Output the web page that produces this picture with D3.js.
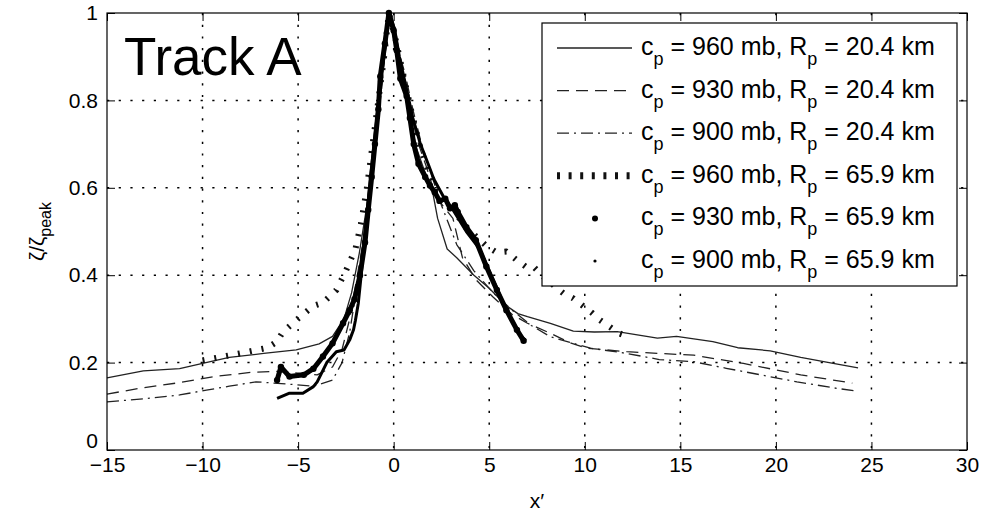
<!DOCTYPE html>
<html>
<head>
<meta charset="utf-8">
<script src="https://cdn.jsdelivr.net/npm/d3@7"></script>
<style>
  body { margin: 0; background: #fff; }
  svg { display: block; font-family: "Liberation Sans", Arial, sans-serif; }
</style>
</head>
<body>
<svg id="chart" width="990" height="514"></svg>
<script>
// Track A: normalised vorticity vs x' for six storm configurations.
// Values.

const xTicks = [-15, -10, -5, 0, 5, 10, 15, 20, 25, 30];
const yTicks = [0, 0.2, 0.4, 0.6, 0.8, 1];

// [x', ζ/ζpeak]
const c960R204 = [
  [-15, 0.165], [-13.1, 0.181], [-11.2, 0.186], [-10, 0.198], [-8.6, 0.212], [-6.8, 0.221],
  [-5.1, 0.229], [-3.9, 0.243], [-3.2, 0.26], [-2.6, 0.3], [-2.2, 0.36], [-1.8, 0.45],
  [-1.4, 0.56], [-1.1, 0.66], [-0.8, 0.78], [-0.5, 0.9], [-0.25, 1.0], [0.1, 0.92],
  [0.4, 0.85], [0.8, 0.77], [1.2, 0.69], [1.6, 0.64], [2.0, 0.6], [2.3, 0.53], [2.8, 0.46],
  [3.3, 0.44], [4.2, 0.4], [5.0, 0.37], [5.9, 0.33], [6.5, 0.312], [7.0, 0.305], [7.8, 0.295],
  [8.2, 0.29], [9.4, 0.272], [10.5, 0.27], [11.7, 0.271], [13.8, 0.256], [14.8, 0.26],
  [16.7, 0.248], [18, 0.234], [19.7, 0.227], [21.3, 0.212], [23, 0.198], [24.3, 0.188]
];
const c930R204 = [
  [-15, 0.128], [-13.3, 0.141], [-11.4, 0.153], [-9.4, 0.168], [-7.4, 0.178], [-6.1, 0.18],
  [-5, 0.176], [-4, 0.172], [-3.2, 0.19], [-2.7, 0.23], [-2.3, 0.3], [-1.9, 0.4], [-1.5, 0.5],
  [-1.2, 0.6], [-0.9, 0.72], [-0.6, 0.84], [-0.25, 1.0], [0.1, 0.93], [0.5, 0.85], [0.9, 0.77],
  [1.3, 0.7], [1.7, 0.65], [2.2, 0.58], [3.1, 0.53], [3.6, 0.44], [4.3, 0.39], [5.2, 0.35],
  [6.2, 0.31], [7.0, 0.29], [8.2, 0.267], [9.2, 0.246], [10.1, 0.233], [12.2, 0.225],
  [13.9, 0.221], [15.7, 0.217], [18.3, 0.198], [21.3, 0.172], [23, 0.16], [24, 0.153]
];
const c900R204 = [
  [-15, 0.11], [-12.9, 0.118], [-11.2, 0.126], [-9.8, 0.137], [-8.6, 0.146], [-7.2, 0.156],
  [-5.3, 0.15], [-4.2, 0.146], [-3.2, 0.16], [-2.7, 0.2], [-2.3, 0.27], [-1.9, 0.38],
  [-1.5, 0.5], [-1.2, 0.6], [-0.9, 0.72], [-0.6, 0.85], [-0.25, 1.0], [0.15, 0.93], [0.6, 0.86],
  [1.0, 0.78], [1.4, 0.71], [1.9, 0.64], [2.5, 0.56], [3.3, 0.47], [4.2, 0.41], [5.2, 0.36],
  [6.2, 0.32], [7.2, 0.285], [8.2, 0.259], [10.3, 0.233], [12.2, 0.221], [13.9, 0.207],
  [15.7, 0.202], [17.4, 0.187], [19.2, 0.172], [21.1, 0.156], [23.2, 0.141], [24.2, 0.135]
];
const c960R659 = [
  [-10, 0.205], [-8.9, 0.214], [-7.6, 0.225], [-6.6, 0.234], [-6.1, 0.248], [-5.8, 0.27],
  [-5.1, 0.297], [-4.2, 0.33], [-3.7, 0.337], [-3, 0.366], [-2.5, 0.41], [-2, 0.46],
  [-1.7, 0.52], [-1.4, 0.6], [-1.1, 0.7], [-0.8, 0.8], [-0.5, 0.9], [-0.25, 1.0], [0.1, 0.94],
  [0.4, 0.88], [0.9, 0.78], [1.4, 0.69], [1.8, 0.64], [2.4, 0.585], [3.0, 0.555], [3.8, 0.51],
  [4.4, 0.485], [4.9, 0.465], [5.4, 0.452], [5.9, 0.454], [6.4, 0.436], [6.9, 0.42], [7.3, 0.42],
  [8.0, 0.39], [8.9, 0.358], [9.4, 0.347], [9.9, 0.33], [10.4, 0.313], [10.8, 0.297],
  [11.3, 0.282], [11.8, 0.267], [12.1, 0.262]
];
const c930R659 = [
  [-6.1, 0.16], [-5.9, 0.19], [-5.45, 0.168], [-4.7, 0.172], [-4.2, 0.186], [-3.7, 0.214],
  [-3.2, 0.244], [-2.65, 0.29], [-2.3, 0.32], [-2.05, 0.345], [-1.76, 0.4], [-1.5, 0.475],
  [-1.33, 0.55], [-1.15, 0.625], [-0.98, 0.7], [-0.8, 0.78], [-0.7, 0.855], [-0.46, 0.93],
  [-0.25, 1.0], [0.0, 0.96], [0.16, 0.915], [0.35, 0.85], [0.68, 0.81], [0.85, 0.76],
  [1.05, 0.7], [1.3, 0.655], [1.65, 0.625], [1.9, 0.605], [2.15, 0.59], [2.4, 0.57],
  [2.7, 0.575], [2.95, 0.553], [3.2, 0.56], [3.35, 0.545], [3.8, 0.51], [4.3, 0.48],
  [4.85, 0.42], [5.4, 0.366], [5.9, 0.32], [6.45, 0.275], [6.8, 0.25]
];
const c900R659 = [
  [-6.1, 0.118], [-5.45, 0.13], [-4.75, 0.13], [-4.2, 0.145], [-4.0, 0.156], [-3.5, 0.2],
  [-3.0, 0.225], [-2.6, 0.229], [-2.3, 0.252], [-2.1, 0.275], [-2.0, 0.297], [-1.85, 0.336],
  [-1.7, 0.4], [-1.55, 0.48], [-1.35, 0.56], [-1.2, 0.63], [-1.0, 0.71], [-0.8, 0.79],
  [-0.6, 0.87], [-0.4, 0.94], [-0.2, 1.0], [0.1, 0.95], [0.3, 0.9], [0.6, 0.84], [1.0, 0.76],
  [1.4, 0.7], [1.8, 0.655], [2.1, 0.62], [2.6, 0.58], [3.1, 0.55], [3.8, 0.5], [4.5, 0.46],
  [5.2, 0.39], [5.9, 0.32], [6.5, 0.27], [6.9, 0.25]
];

const legendLabels = [
  ['960', '20.4'], ['930', '20.4'], ['900', '20.4'],
  ['960', '65.9'], ['930', '65.9'], ['900', '65.9']
];

const svg = d3.select('#chart');
const plot = { left: 107, right: 967, top: 13, bottom: 450 };

const x = d3.scaleLinear().domain([-15, 30]).range([plot.left, plot.right]);
const y = d3.scaleLinear().domain([0, 1]).range([plot.bottom, plot.top]);

svg.append('rect').attr('width', 990).attr('height', 514).attr('fill', '#fff');

// dotted grid
const grid = svg.append('g')
  .attr('stroke', '#000').attr('stroke-width', 1.5).attr('stroke-dasharray', '2.2,9.5');
xTicks.slice(1, -1).forEach((t) => {
  grid.append('line').attr('x1', x(t)).attr('x2', x(t)).attr('y1', plot.top).attr('y2', plot.bottom);
});
yTicks.slice(1, -1).forEach((t) => {
  grid.append('line').attr('y1', y(t)).attr('y2', y(t)).attr('x1', plot.left).attr('x2', plot.right);
});

// series
const line = d3.line().x((d) => x(d[0])).y((d) => y(d[1]));
const thin = { stroke: '#222', width: 1.3 };

const series = [
  { data: c960R204, stroke: thin.stroke, width: thin.width, dash: null },
  { data: c930R204, stroke: thin.stroke, width: thin.width, dash: '12,7' },
  { data: c900R204, stroke: thin.stroke, width: thin.width, dash: '12,5,2,5' },
  { data: c960R659, stroke: '#111', width: 6, dash: '2,10' },
  { data: c900R659, stroke: '#000', width: 3, dash: null },
  { data: c930R659, stroke: '#000', width: 5, dash: null }
];

series.forEach((s) => {
  svg.append('path')
    .attr('d', line(s.data))
    .attr('fill', 'none')
    .attr('stroke', s.stroke)
    .attr('stroke-width', s.width)
    .attr('stroke-linejoin', 'round')
    .attr('stroke-dasharray', s.dash);
});

// marker blobs along the thick series
svg.append('g').selectAll('circle')
  .data(c930R659)
  .join('circle')
  .attr('cx', (d) => x(d[0]))
  .attr('cy', (d) => y(d[1]))
  .attr('r', 3.2)
  .attr('fill', '#000');

// axes box and ticks (ticks point inward like matlab)
const fmt = d3.format('~g');
const axFont = (g) => g.selectAll('text')
  .attr('font-size', 21).attr('fill', '#000')
  .attr('font-family', '"Liberation Sans", Arial, sans-serif');

svg.append('g').attr('transform', `translate(0,${plot.bottom})`)
  .call(d3.axisBottom(x).tickValues(xTicks).tickSizeInner(-8).tickSizeOuter(0).tickPadding(7).tickFormat(fmt))
  .call((g) => g.select('.domain').remove())
  .call(axFont);
svg.append('g').attr('transform', `translate(0,${plot.top})`)
  .call(d3.axisTop(x).tickValues(xTicks).tickSizeInner(-8).tickSizeOuter(0).tickFormat(''))
  .call((g) => g.select('.domain').remove());
svg.append('g').attr('transform', `translate(${plot.left},0)`)
  .call(d3.axisLeft(y).tickValues(yTicks).tickSizeInner(-8).tickSizeOuter(0).tickPadding(9).tickFormat(fmt))
  .call((g) => g.select('.domain').remove())
  .call(axFont)
  .call((g) => g.selectAll('.tick text').filter((d) => d === 0).attr('dy', '-0.1em'));
svg.append('g').attr('transform', `translate(${plot.right},0)`)
  .call(d3.axisRight(y).tickValues(yTicks).tickSizeInner(-8).tickSizeOuter(0).tickFormat(''))
  .call((g) => g.select('.domain').remove());

svg.append('rect')
  .attr('x', plot.left).attr('y', plot.top)
  .attr('width', plot.right - plot.left).attr('height', plot.bottom - plot.top)
  .attr('fill', 'none').attr('stroke', '#000').attr('stroke-width', 1.2);

// axis labels
svg.append('text')
  .attr('x', (plot.left + plot.right) / 2).attr('y', 508)
  .attr('text-anchor', 'middle').attr('font-size', 21)
  .text('x′');

const yl = svg.append('text')
  .attr('transform', `translate(44,${(plot.top + plot.bottom) / 2}) rotate(-90)`)
  .attr('text-anchor', 'middle').attr('font-size', 21);
yl.append('tspan').text('ζ/ζ');
yl.append('tspan').attr('dy', 7).attr('font-size', 16).text('peak');

// panel title
svg.append('text')
  .attr('x', 124).attr('y', 75)
  .attr('font-size', 53)
  .text('Track A');

// legend
const lg = { x: 542, y: 23, w: 415, h: 263 };
const legend = svg.append('g');
legend.append('rect')
  .attr('x', lg.x).attr('y', lg.y).attr('width', lg.w).attr('height', lg.h)
  .attr('fill', '#fff').attr('stroke', '#000').attr('stroke-width', 1.2);

const rowY = d3.scaleLinear().domain([0, 5]).range([46, 259]);
legendLabels.forEach((lab, i) => {
  const ry = rowY(i);
  const s = series[i === 4 ? 5 : i === 5 ? 4 : i];
  if (i < 4) {
    legend.append('line')
      .attr('x1', 557).attr('x2', 632).attr('y1', ry + 2).attr('y2', ry + 2)
      .attr('stroke', s.stroke)
      .attr('stroke-width', i === 3 ? 7 : thin.width)
      .attr('stroke-dasharray', i === 3 ? '3,8.6' : s.dash);
  } else {
    legend.append('circle')
      .attr('cx', 595).attr('cy', ry + 2).attr('r', i === 4 ? 3 : 1.6).attr('fill', '#000');
  }
  const t = legend.append('text').attr('x', 641).attr('y', ry + 9).attr('font-size', 25);
  t.append('tspan').text('c');
  t.append('tspan').attr('dy', 10).attr('font-size', 18).text('p');
  t.append('tspan').attr('dy', -10).text(` = ${lab[0]} mb, R`);
  t.append('tspan').attr('dy', 10).attr('font-size', 18).text('p');
  t.append('tspan').attr('dy', -10).text(` = ${lab[1]} km`);
});
</script>
</body>
</html>
